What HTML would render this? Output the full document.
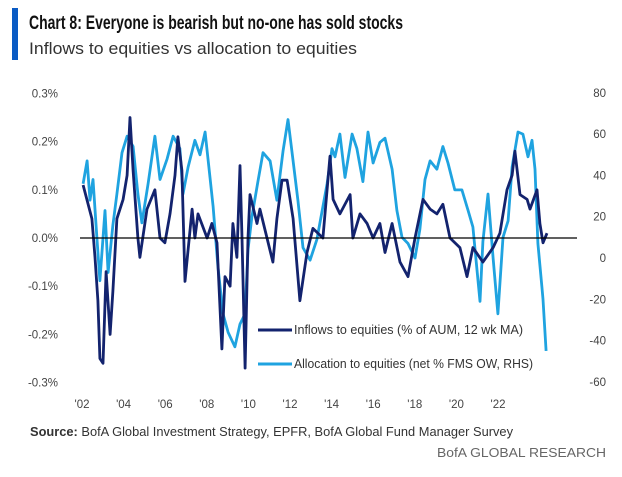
<!DOCTYPE html>
<html><head><meta charset="utf-8"><style>
html,body{margin:0;padding:0;background:#fff;}
svg{display:block;font-family:"Liberation Sans Narrow","Liberation Sans",sans-serif;}
</style></head><body>
<svg id="chart" width="622" height="477" viewBox="0 0 622 477">
<rect x="12" y="8" width="6" height="52" fill="#0a5bc4"/>
<text x="29" y="29" font-size="19" font-weight="bold" fill="#111" textLength="374" lengthAdjust="spacingAndGlyphs">Chart 8: Everyone is bearish but no-one has sold stocks</text>
<text x="29" y="54" font-size="17" fill="#333" textLength="328" lengthAdjust="spacingAndGlyphs">Inflows to equities vs allocation to equities</text>
<g id="axes"></g>
<g id="series"></g>
<g>
<line x1="258" y1="330" x2="292" y2="330" stroke="#13236e" stroke-width="3"/>
<text x="294" y="334" font-size="12.5" fill="#333" textLength="229" lengthAdjust="spacingAndGlyphs">Inflows to equities (% of AUM, 12 wk MA)</text>
<line x1="258" y1="364" x2="292" y2="364" stroke="#1fa3e0" stroke-width="3"/>
<text x="294" y="368" font-size="12.5" fill="#333" textLength="239" lengthAdjust="spacingAndGlyphs">Allocation to equities (net % FMS OW, RHS)</text>
</g>
<text x="30" y="436" font-size="12.5" fill="#333" textLength="483" lengthAdjust="spacingAndGlyphs"><tspan font-weight="bold">Source:</tspan>  BofA Global Investment Strategy, EPFR, BofA Global Fund Manager Survey</text>
<text x="606" y="457" font-size="12.5" fill="#666" text-anchor="end" textLength="169" lengthAdjust="spacingAndGlyphs">BofA GLOBAL RESEARCH</text>
</svg>
<script>
const leftTicks = [0.3, 0.2, 0.1, 0.0, -0.1, -0.2, -0.3];
const leftTickLabels = ["0.3%","0.2%","0.1%","0.0%","-0.1%","-0.2%","-0.3%"];
const rightTicks = [80, 60, 40, 20, 0, -20, -40, -60];
const xTickYears = [2002,2004,2006,2008,2010,2012,2014,2016,2018,2020,2022];
const xTickLabels = ["'02","'04","'06","'08","'10","'12","'14","'16","'18","'20","'22"];

const inflowYears = [2002.05,2002.45,2002.59,2002.72,2002.81,2002.95,2003.09,2003.27,2003.40,2003.58,2003.86,2004.04,2004.17,2004.31,2004.53,2004.62,2004.94,2005.30,2005.53,2005.75,2005.98,2006.21,2006.34,2006.52,2006.66,2006.98,2007.11,2007.25,2007.66,2007.88,2008.11,2008.33,2008.47,2008.70,2008.83,2009.01,2009.15,2009.24,2009.38,2009.51,2009.60,2009.92,2010.05,2010.37,2010.64,2010.82,2011.05,2011.28,2011.55,2011.86,2012.18,2012.45,2012.90,2013.22,2013.36,2013.67,2014.13,2014.26,2014.58,2014.90,2015.17,2015.48,2015.71,2016.03,2016.39,2016.75,2017.07,2017.43,2017.75,2018.06,2018.33,2018.65,2019.10,2019.42,2019.69,2020.14,2020.60,2020.91,2021.23,2021.46,2021.59,2021.82,2022.14,2022.27,2022.59,2022.72,2022.86,2023.04];
const inflowValues = [0.11,0.04,-0.04,-0.13,-0.25,-0.26,-0.07,-0.20,-0.11,0.04,0.08,0.13,0.25,0.14,0.0,-0.04,0.06,0.10,0.0,-0.01,0.05,0.13,0.21,0.14,-0.09,0.06,0.0,0.05,0.0,0.03,-0.01,-0.23,-0.08,-0.10,0.03,-0.04,0.15,0.0,-0.27,0.0,0.09,0.03,0.06,0.0,-0.05,0.04,0.12,0.12,0.04,-0.13,-0.03,0.02,0.0,0.17,0.08,0.05,0.09,0.0,0.05,0.03,0.0,0.03,-0.03,0.03,-0.05,-0.08,0.0,0.08,0.06,0.05,0.07,0.0,-0.02,-0.08,-0.02,-0.05,-0.02,0.01,0.10,0.13,0.18,0.09,0.08,0.06,0.10,0.03,-0.01,0.01];

const allocYears = [2002.05,2002.23,2002.36,2002.50,2002.68,2002.81,2003.04,2003.18,2003.40,2003.58,2003.81,2004.04,2004.31,2004.53,2004.71,2004.99,2005.30,2005.53,2005.85,2006.12,2006.43,2006.57,2006.80,2007.11,2007.34,2007.57,2007.79,2007.93,2008.15,2008.38,2008.61,2008.92,2009.15,2009.38,2009.51,2009.69,2009.96,2010.19,2010.51,2010.82,2011.10,2011.32,2011.55,2011.77,2012.00,2012.32,2012.63,2013.09,2013.31,2013.45,2013.67,2013.90,2014.22,2014.44,2014.71,2014.94,2015.17,2015.48,2015.71,2016.03,2016.25,2016.48,2016.75,2017.07,2017.29,2017.52,2017.75,2018.06,2018.33,2018.56,2018.87,2019.19,2019.47,2019.69,2020.01,2020.14,2020.37,2020.60,2020.82,2021.05,2021.28,2021.46,2021.73,2021.95,2022.18,2022.36,2022.50,2022.63,2022.81,2022.86,2023.00];
const allocValues = [36,47,28,38,9,-11,23,-7,16,31,51,59,54,31,17,36,59,38,48,59,53,31,44,57,50,61,39,25,-4,-27,-36,-43,-32,-27,4,20,37,51,47,28,52,67,47,28,5,-1,9,36,53,49,60,39,60,53,37,61,46,56,58,43,23,10,7,0,14,38,47,43,54,46,33,33,23,15,-21,8,31,0,-27,10,18,44,61,60,49,57,43,7,-14,-20,-45,-27];

const NS = "http://www.w3.org/2000/svg";
const X0 = 82, PXYR = 22.1, LBL_PXYR = 20.8;
function xScale(y){ return X0 + (y - 2002) * PXYR; }
function xLabelScale(y){ return X0 + (y - 2002) * LBL_PXYR; }
function yLeft(v){ return 238 - v * 482; }
function yRight(v){ return 258 - v * 2.065; }

const axes = document.getElementById('axes');
const series = document.getElementById('series');
function mk(tag, attrs, parent){ const e = document.createElementNS(NS, tag); for (const k in attrs) e.setAttribute(k, attrs[k]); parent.appendChild(e); return e; }

leftTicks.forEach((t,i)=>{
  const e = mk('text',{x:58,y:yLeft(t)+4,'font-size':11.5,fill:'#444','text-anchor':'end'},axes);
  e.textContent = leftTickLabels[i];
  
  
});
rightTicks.forEach(t=>{
  const e = mk('text',{x:606,y:yRight(t)+4,'font-size':11.5,fill:'#444','text-anchor':'end'},axes);
  e.textContent = String(t);
  
  
});
xTickYears.forEach((yr,i)=>{
  const e = mk('text',{x:xLabelScale(yr),y:408,'font-size':11.5,fill:'#444','text-anchor':'middle'},axes);
  e.textContent = xTickLabels[i];
  
  
});

function path(xs, vs, yf){ return xs.map((x,i)=>(i?'L':'M')+xScale(x).toFixed(1)+','+yf(vs[i]).toFixed(1)).join(''); }
const pInflow = mk('path',{d:path(inflowYears,inflowValues,yLeft),fill:'none',stroke:'#13236e','stroke-width':2.8,'stroke-linejoin':'round'},series);


const pAlloc = mk('path',{d:path(allocYears,allocValues,yRight),fill:'none',stroke:'#1fa3e0','stroke-width':2.8,'stroke-linejoin':'round'},series);


series.insertBefore(pAlloc, pInflow);

const zero = mk('line',{x1:80,y1:yLeft(0),x2:577,y2:yLeft(0),stroke:'#000','stroke-width':1.2},series);


</script>
</body></html>
